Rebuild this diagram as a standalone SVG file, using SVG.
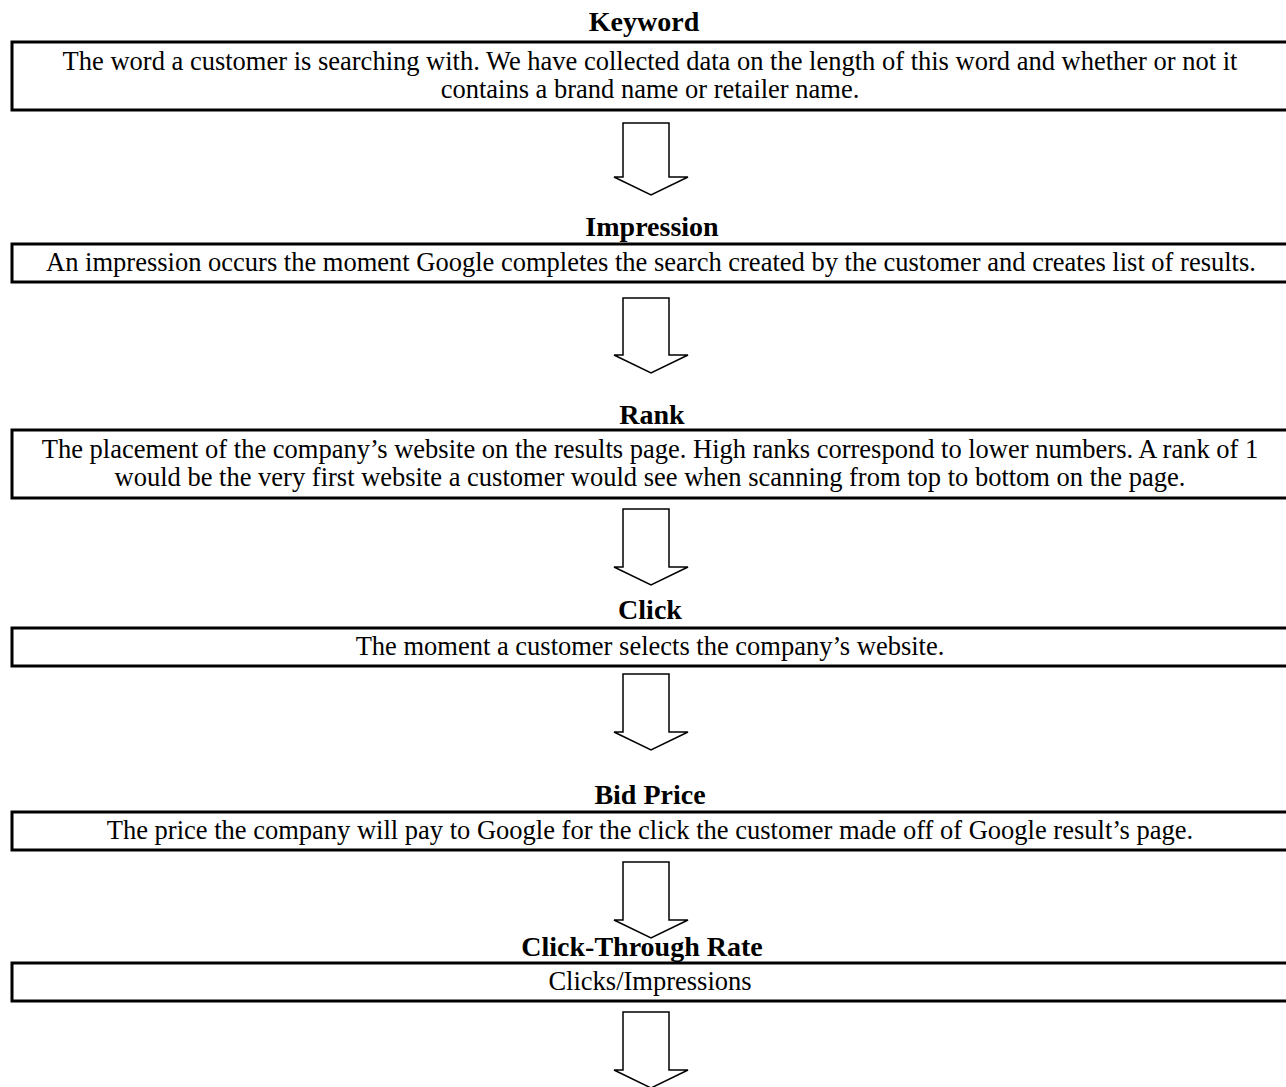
<svg xmlns="http://www.w3.org/2000/svg" width="1286" height="1087" viewBox="0 0 1286 1087">
<style>
.box{fill:#fff;stroke:#000;stroke-width:3}
.title{font-family:"Liberation Serif","Times New Roman",serif;font-weight:bold;font-size:28px;fill:#000;text-anchor:middle}
.body{font-family:"Liberation Serif","Times New Roman",serif;font-size:26.5px;fill:#000;text-anchor:middle}
.arrow{fill:#fff;stroke:#000;stroke-width:1.5;stroke-linejoin:miter}
</style>
<rect width="1286" height="1087" fill="#fff"/>
<g id="connectors">
<polygon class="arrow" points="623,123 669,123 669,177 688,177 651,195 614,177 623,177"/>
<polygon class="arrow" points="623,298 669,298 669,355 688,355 651,373 614,355 623,355"/>
<polygon class="arrow" points="623,509 669,509 669,567 688,567 651,585 614,567 623,567"/>
<polygon class="arrow" points="623,674 669,674 669,732 688,732 651,750 614,732 623,732"/>
<polygon class="arrow" points="623,862 669,862 669,920 688,920 651,938 614,920 623,920"/>
<polygon class="arrow" points="623,1012 669,1012 669,1070 688,1070 651,1088 614,1070 623,1070"/>
</g>
<g id="keyword">
<text class="title" x="644" y="31">Keyword</text>
<rect class="box" x="12" y="42" width="1290" height="68"/>
<text class="body" x="650" y="70">The word a customer is searching with. We have collected data on the length of this word and whether or not it</text>
<text class="body" x="650" y="98">contains a brand name or retailer name.</text>
</g>
<g id="impression">
<text class="title" x="652" y="236">Impression</text>
<rect class="box" x="12" y="244" width="1290" height="38"/>
<text class="body" x="651" y="271">An impression occurs the moment Google completes the search created by the customer and creates list of results.</text>
</g>
<g id="rank">
<text class="title" x="652" y="424">Rank</text>
<rect class="box" x="12" y="430" width="1290" height="68"/>
<text class="body" x="650" y="458">The placement of the company’s website on the results page. High ranks correspond to lower numbers. A rank of 1</text>
<text class="body" x="650" y="486">would be the very first website a customer would see when scanning from top to bottom on the page.</text>
</g>
<g id="click">
<text class="title" x="650" y="619">Click</text>
<rect class="box" x="12" y="628" width="1290" height="38"/>
<text class="body" x="650" y="655">The moment a customer selects the company’s website.</text>
</g>
<g id="bid-price">
<text class="title" x="650" y="804">Bid Price</text>
<rect class="box" x="12" y="812" width="1290" height="38"/>
<text class="body" x="650" y="839">The price the company will pay to Google for the click the customer made off of Google result’s page.</text>
</g>
<g id="click-through-rate">
<text class="title" x="642" y="956">Click-Through Rate</text>
<rect class="box" x="12" y="963" width="1290" height="38"/>
<text class="body" x="650" y="990">Clicks/Impressions</text>
</g>
</svg>
